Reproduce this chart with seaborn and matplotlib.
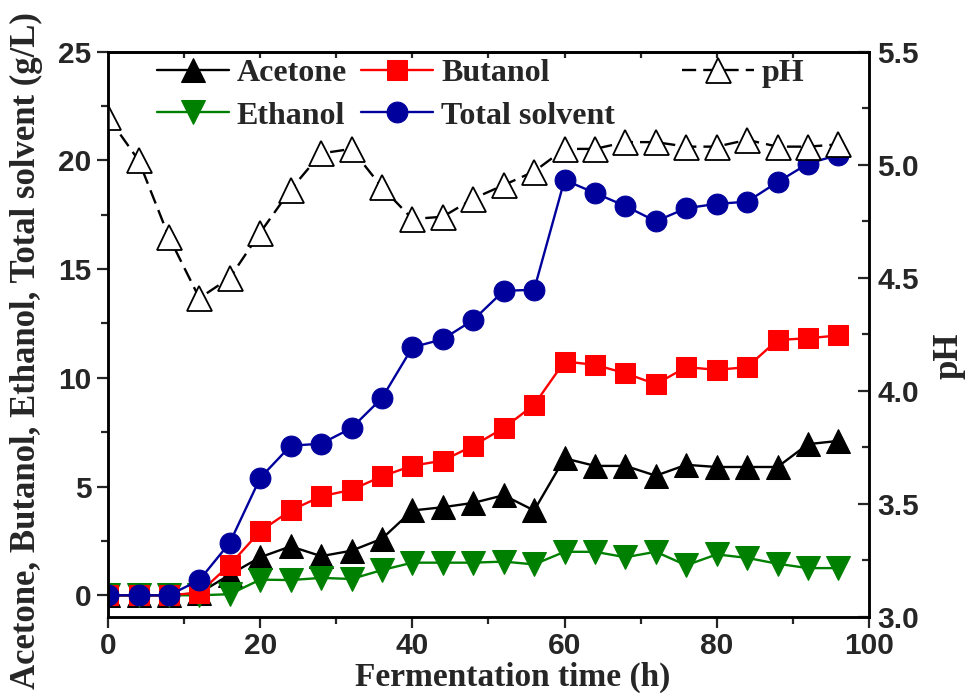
import matplotlib
matplotlib.use("Agg")
import matplotlib.pyplot as plt
import seaborn as sns
import numpy as np
from matplotlib.ticker import MultipleLocator

# fermentation time (h)
time = [0, 4, 8, 12, 16, 20, 24, 28, 32, 36, 40, 44, 48,
        52, 56, 60, 64, 68, 72, 76, 80, 84, 88, 92, 96]

acetone = [0, 0, 0, 0.1, 0.95, 1.75, 2.25, 1.8, 2.05, 2.6, 3.9, 4.05, 4.25,
           4.6, 3.9, 6.3, 5.95, 5.95, 5.5, 6.0, 5.9, 5.9, 5.9, 6.95, 7.1]
butanol = [0, 0, 0, 0.12, 1.4, 2.95, 3.9, 4.55, 4.85, 5.47, 5.96, 6.19, 6.88,
           7.69, 8.76, 10.75, 10.6, 10.21, 9.71, 10.49, 10.37, 10.49, 11.74, 11.82, 11.95]
ethanol = [0, 0, 0, 0, 0.05, 0.72, 0.7, 0.8, 0.75, 1.16, 1.5, 1.5, 1.5,
           1.55, 1.42, 2.0, 2.0, 1.75, 2.0, 1.38, 1.88, 1.72, 1.45, 1.25, 1.25]
total = [0, 0, 0, 0.7, 2.42, 5.4, 6.88, 6.97, 7.69, 9.07, 11.4, 11.78, 12.66,
         14.0, 14.05, 19.1, 18.5, 17.9, 17.2, 17.8, 18.0, 18.1, 19.0, 19.85, 20.25]
ph = [5.21, 5.02, 4.68, 4.41, 4.50, 4.70, 4.89, 5.05, 5.07, 4.90, 4.76, 4.77, 4.85,
      4.91, 4.97, 5.07, 5.07, 5.10, 5.10, 5.08, 5.08, 5.11, 5.08, 5.08, 5.09]

sns.set_style("ticks")
plt.rcParams["font.family"] = ["Liberation Sans", "DejaVu Sans"]
plt.rcParams["font.weight"] = "bold"
serif = ["Liberation Serif", "DejaVu Serif"]

fig, ax = plt.subplots(figsize=(9.74, 6.98), dpi=100)
fig.subplots_adjust(left=0.111, right=0.892, bottom=0.116, top=0.926)

lw = 1.7
sns.lineplot(x=time, y=acetone, ax=ax, color="black", marker="^", markersize=17,
             markeredgecolor="black", lw=lw, label="Acetone")
sns.lineplot(x=time, y=ethanol, ax=ax, color="#008000", marker="v", markersize=17,
             markeredgecolor="#008000", lw=lw, label="Ethanol")
sns.lineplot(x=time, y=butanol, ax=ax, color="#ff0000", marker="s", markersize=15,
             markeredgecolor="#ff0000", lw=lw, label="Butanol")
sns.lineplot(x=time, y=total, ax=ax, color="#00009c", marker="o", markersize=15,
             markeredgecolor="#00009c", lw=lw, label="Total solvent")

ax2 = ax.twinx()
sns.lineplot(x=time, y=ph, ax=ax2, color="black", marker="^", markersize=18,
             markerfacecolor="white", markeredgecolor="black", markeredgewidth=1.3,
             lw=lw, dashes=False, label="pH")
ax2.lines[0].set_dashes((6, 3))

ax.set_xlim(0, 100)
ax.set_ylim(-1, 25)
ax2.set_ylim(3.0, 5.5)

ax.xaxis.set_major_locator(MultipleLocator(20))
ax.xaxis.set_minor_locator(MultipleLocator(10))
ax.yaxis.set_major_locator(MultipleLocator(5))
ax.yaxis.set_minor_locator(MultipleLocator(2.5))
ax2.yaxis.set_major_locator(MultipleLocator(0.5))
ax2.yaxis.set_minor_locator(MultipleLocator(0.25))

for a in (ax, ax2):
    for s in a.spines.values():
        s.set_linewidth(1.8)
        s.set_color("black")

ax.tick_params(axis="both", which="major", direction="out", length=8, width=1.6,
               labelsize=21.5, pad=4)
ax.tick_params(axis="x", which="major", pad=3)
ax.tick_params(axis="both", which="minor", direction="out", length=5, width=1.6)
ax2.tick_params(axis="y", which="major", direction="in", length=8, width=1.6,
                labelsize=21.5, pad=6)
ax2.tick_params(axis="y", which="minor", direction="in", length=5, width=1.6)

top = ax.secondary_xaxis("top")
top.set_xticks(np.arange(10, 100, 10))
top.tick_params(direction="in", length=4, width=1.6, labeltop=False)
top.spines["top"].set_linewidth(1.8)

for lab in ax.get_xticklabels() + ax.get_yticklabels() + ax2.get_yticklabels():
    lab.set_fontweight("bold")

ax.set_xlabel("Fermentation time (h)", family=serif, fontsize=24,
              fontweight="bold")
ax.xaxis.set_label_coords(0.532, -0.08)
ax.set_ylabel("Acetone, Butanol, Ethanol, Total solvent (g/L)", family=serif,
              fontsize=25, fontweight="bold")
ax.yaxis.set_label_coords(-0.085, 0.472)
ax2.set_ylabel("pH", family=serif, fontsize=25, fontweight="bold")
ax2.yaxis.set_label_coords(1.084, 0.462)

legprop = {"family": serif, "weight": "bold", "size": 23}
h, l = ax.get_legend_handles_labels()
ax.legend(h, l, ncol=2, loc="upper left", bbox_to_anchor=(0.064, 0.988),
          frameon=False, prop=legprop,
          handlelength=2.25, handletextpad=0.25, columnspacing=0.45,
          labelspacing=0.42, borderpad=0, borderaxespad=0)
h2, l2 = ax2.get_legend_handles_labels()
ax2.legend(h2, l2, loc="upper left", bbox_to_anchor=(0.754, 0.988),
           frameon=False, prop=legprop,
           handlelength=2.25, handletextpad=0.25, borderpad=0, borderaxespad=0)

fig.savefig("out.png", dpi=100)
